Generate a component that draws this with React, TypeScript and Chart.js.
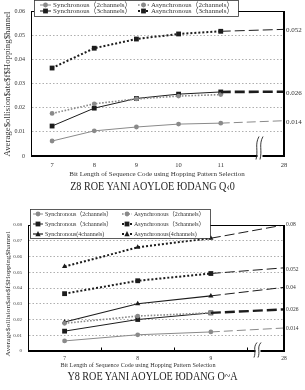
import React, { useEffect, useRef } from 'react';
import { Chart, registerables } from 'chart.js';

Chart.register(...registerables);

const SERIF = '"Liberation Serif", "Noto Sans CJK JP", serif';

// ---------- Figure 1 (top) ----------
const topBits = [7, 8, 9, 10, 11];
const topTailBits = 28;
const topSync2 = [0.0062, 0.0104, 0.012, 0.0132, 0.0136];
const topAsync2 = [0.0176, 0.0216, 0.0236, 0.0248, 0.0254];
const topSync3 = [0.0124, 0.0198, 0.0238, 0.0256, 0.0265];
const topAsync3 = [0.0364, 0.0446, 0.0484, 0.0505, 0.0516];
const topTailSync2 = 0.0146;
const topTailSync3 = 0.0266;
const topTailAsync3 = 0.0524;
const topYTicks = [0, 0.01, 0.02, 0.03, 0.04, 0.05, 0.06];
const topRightTicks = [0.014, 0.026, 0.052];

// ---------- Figure 2 (bottom) ----------
const botBits = [7, 8, 9];
const botTailBits = 28;
const botSync2 = [0.0064, 0.0103, 0.0121];
const botAsync2 = [0.0176, 0.0222, 0.0242];
const botSync3 = [0.0126, 0.02, 0.0242];
const botAsync3 = [0.0364, 0.0446, 0.0492];
const botSync4 = [0.0184, 0.03, 0.035];
const botAsync4 = [0.0536, 0.0658, 0.0716];
const botTailSync2 = 0.0146;
const botTailSync3 = 0.0264;
const botTailSync4 = 0.0404;
const botTailAsync3 = 0.0528;
const botTailAsync4 = 0.08;
const botYTicks = [0, 0.01, 0.02, 0.03, 0.04, 0.05, 0.06, 0.07, 0.08];
const botRightTicks = [0.014, 0.026, 0.04, 0.052, 0.08];

const seriesLabels = [
  'Synchronous（2channels）',
  'Asynchronous（2channels）',
  'Synchronous（3channels）',
  'Asynchronous（3channels）',
  'Synchronous(4channels)',
  'Asynchronous(4channels)',
];

const xTitleText = 'Bit Length of Sequence Code using Hopping Pattern Selection';
const yTitleText = 'Average$ollision$ate$f$Hopping$hannel';
const caption1 = 'Z8 ROE YANI AOYLOE ЮDANG Q‹0';
const caption2 = 'Y8 ROE YANI AOYLOE ЮDANG O~A';

const GRAY = '#8a8a8a';
const DARK = '#1c1c1c';

const sSync2 = { borderColor: GRAY, backgroundColor: GRAY, borderWidth: 1, borderDash: [], pointStyle: 'circle', pointRadius: 2.4 };
const sAsync2 = { borderColor: GRAY, backgroundColor: GRAY, borderWidth: 1.6, borderDash: [1.6, 1.6], pointStyle: 'circle', pointRadius: 2.4 };
const sSync3 = { borderColor: DARK, backgroundColor: DARK, borderWidth: 1, borderDash: [], pointStyle: 'rect', pointRadius: 3.4 };
const sAsync3 = { borderColor: DARK, backgroundColor: DARK, borderWidth: 2, borderDash: [2, 2], pointStyle: 'rect', pointRadius: 3.4 };
const sSync4 = { borderColor: DARK, backgroundColor: DARK, borderWidth: 1.2, borderDash: [], pointStyle: 'triangle', pointRadius: 3 };
const sAsync4 = { borderColor: DARK, backgroundColor: DARK, borderWidth: 2, borderDash: [2, 2], pointStyle: 'triangle', pointRadius: 3 };

function series(label: string, bits: number[], vals: number[], style: any) {
  return {
    label,
    data: bits.map((b, i) => ({ x: b, y: vals[i] })),
    ...style,
    pointBorderWidth: 0,
    pointHoverRadius: style.pointRadius,
    fill: false,
    tension: 0,
  };
}

function tail(fromBit: number, fromVal: number, toPos: number, toVal: number, color: string, width: number, dash: number[]) {
  return {
    data: [{ x: fromBit, y: fromVal }, { x: toPos, y: toVal }],
    borderColor: color,
    backgroundColor: color,
    borderWidth: width,
    borderDash: dash,
    pointRadius: 0,
    fill: false,
    tension: 0,
  };
}

function drawMarker(ctx: CanvasRenderingContext2D, style: string, x: number, y: number, r: number, color: string) {
  ctx.save();
  ctx.setLineDash([]);
  ctx.fillStyle = color;
  ctx.beginPath();
  if (style === 'circle') {
    ctx.arc(x, y, r, 0, Math.PI * 2);
  } else if (style === 'rect') {
    const h = r * Math.SQRT1_2;
    ctx.rect(x - h, y - h, 2 * h, 2 * h);
  } else {
    const h = r * 1.5;
    ctx.moveTo(x, y - r);
    ctx.lineTo(x + h * 0.58, y + h * 0.5);
    ctx.lineTo(x - h * 0.58, y + h * 0.5);
    ctx.closePath();
  }
  ctx.fill();
  ctx.restore();
}

const decor = {
  id: 'decor',
  afterDraw(chart: any, _args: any, o: any) {
    const ctx: CanvasRenderingContext2D = chart.ctx;
    const ca = chart.chartArea;
    ctx.save();
    // frame
    ctx.setLineDash([]);
    ctx.strokeStyle = '#000';
    ctx.lineWidth = 1;
    const L = Math.round(ca.left) + 0.5;
    const T = Math.round(ca.top) + 0.5;
    const R = Math.round(ca.right) - 0.5;
    const B = Math.round(ca.bottom) - 0.5;
    ctx.strokeRect(L, T, R - L, B - T);

    // inner minor ticks on x axis
    const xs = chart.scales.x;
    (o.minorTicks || []).forEach((v: number) => {
      const px = Math.round(xs.getPixelForValue(v)) + 0.5;
      ctx.beginPath();
      ctx.moveTo(px, B);
      ctx.lineTo(px, B - 3);
      ctx.stroke();
    });

    // axis break
    const bx = R - o.breakOffset;
    ctx.fillStyle = '#fff';
    ctx.fillRect(bx - 2, B - 2, 5, 4);
    ctx.lineWidth = 0.9;
    ctx.strokeStyle = '#222';
    [0, 4].forEach((dx) => {
      const x = bx - 2 + dx;
      const y1 = B - o.breakUp;
      const y2 = B + o.breakDown;
      ctx.beginPath();
      ctx.moveTo(x + 1.5, y1);
      ctx.bezierCurveTo(x - 3, y1 + (y2 - y1) * 0.35, x + 1, y1 + (y2 - y1) * 0.6, x - 1.5, y2);
      ctx.stroke();
    });

    // titles
    ctx.fillStyle = '#333';
    ctx.textAlign = 'center';
    ctx.textBaseline = 'middle';
    ctx.font = `${o.xTitleSize}px ${SERIF}`;
    ctx.fillText(xTitleText, o.xTitleX, o.xTitleY);
    ctx.save();
    ctx.translate(o.yTitleX, o.yTitleY);
    ctx.rotate(-Math.PI / 2);
    ctx.font = `${o.yTitleSize}px ${SERIF}`;
    const w = ctx.measureText(yTitleText).width;
    const sx = o.yTitleLen / w;
    ctx.scale(sx, 1);
    ctx.fillText(yTitleText, 0, 0);
    ctx.restore();

    // legend
    const [lx, ly, lw, lh] = o.legendBox;
    ctx.fillStyle = '#fff';
    ctx.fillRect(lx, ly, lw, lh);
    ctx.strokeStyle = '#333';
    ctx.lineWidth = 0.8;
    ctx.strokeRect(lx + 0.5, ly + 0.5, lw, lh);
    ctx.font = `${o.legendSize}px ${SERIF}`;
    ctx.textAlign = 'left';
    let k = 0;
    chart.data.datasets.forEach((ds: any) => {
      if (!ds.label) return;
      const col = k % 2;
      const row = Math.floor(k / 2);
      k++;
      const px = o.legendCols[col];
      const py = o.legendRows[row];
      ctx.save();
      ctx.strokeStyle = ds.borderColor;
      ctx.lineWidth = ds.borderWidth;
      ctx.setLineDash(ds.borderDash || []);
      ctx.beginPath();
      ctx.moveTo(px, py);
      ctx.lineTo(px + o.sampleW, py);
      ctx.stroke();
      ctx.restore();
      drawMarker(ctx, ds.pointStyle, px + o.sampleW / 2, py, ds.pointRadius, ds.backgroundColor);
      ctx.fillStyle = '#333';
      ctx.fillText(ds.label, px + o.sampleW + 2, py + 0.5);
    });
    ctx.restore();
  },
};

function makeChart(canvas: HTMLCanvasElement, cfg: any) {
  const { datasets, xMin, xMax, bits, tailBits, yMax, yTicks, rightTicks, padTop, leftW, rightW, xH, tickSize, rightSize, xTickSize, xTickPad, decorOpts } = cfg;
  return new Chart(canvas, {
    type: 'line',
    data: { datasets },
    plugins: [decor],
    options: {
      animation: false,
      responsive: false,
      events: [],
      layout: { padding: { top: padTop, left: 0, right: 0, bottom: 0 } },
      plugins: {
        legend: { display: false },
        tooltip: { enabled: false },
        decor: decorOpts,
      } as any,
      scales: {
        x: {
          type: 'linear',
          min: xMin,
          max: xMax,
          afterBuildTicks: (s: any) => {
            s.ticks = [...bits, xMax].map((v: number) => ({ value: v }));
          },
          afterFit: (s: any) => {
            s.height = xH;
          },
          ticks: {
            autoSkip: false,
            maxRotation: 0,
            padding: xTickPad,
            color: '#333',
            font: { family: SERIF, size: xTickSize },
            callback: (v: any) => (v === xMax ? String(tailBits) : String(v)),
          },
          grid: { display: false, drawTicks: false, tickLength: 0 },
          border: { color: '#000' },
        },
        y: {
          min: 0,
          max: yMax,
          afterBuildTicks: (s: any) => {
            s.ticks = yTicks.map((v: number) => ({ value: v }));
          },
          afterFit: (s: any) => {
            s.width = leftW;
          },
          ticks: {
            padding: 6,
            color: '#333',
            font: { family: SERIF, size: tickSize },
            callback: (v: any) => (v === 0 ? '0' : Number(v).toFixed(2)),
          },
          grid: { color: '#9a9a9a', lineWidth: 0.8, drawTicks: false },
          border: { color: '#000', dash: [1.5, 2] },
        },
        yR: {
          position: 'right',
          min: 0,
          max: yMax,
          afterBuildTicks: (s: any) => {
            s.ticks = rightTicks.map((v: number) => ({ value: v }));
          },
          afterFit: (s: any) => {
            s.width = rightW;
          },
          ticks: {
            padding: 2,
            color: '#333',
            font: { family: SERIF, size: rightSize },
            callback: (v: any) => String(v),
          },
          grid: { display: false, drawTicks: false },
          border: { color: '#000' },
        },
      } as any,
    },
  } as any);
}

export default function App() {
  const topRef = useRef<HTMLCanvasElement>(null);
  const botRef = useRef<HTMLCanvasElement>(null);

  useEffect(() => {
    const topXMax = 12.5;
    const botXMax = 10;
    const topLast = topBits[topBits.length - 1];
    const botLast = botBits[botBits.length - 1];
    const li = topBits.length - 1;
    const bi = botBits.length - 1;

    const top = makeChart(topRef.current!, {
      datasets: [
        tail(topLast, topSync2[li], topXMax, topTailSync2, GRAY, 1, [9, 4]),
        tail(topLast, topAsync3[li], topXMax, topTailAsync3, DARK, 1, [10, 4]),
        tail(topLast, topSync3[li], topXMax, topTailSync3, DARK, 2.6, [10, 4]),
        series(seriesLabels[0], topBits, topSync2, sSync2),
        series(seriesLabels[1], topBits, topAsync2, sAsync2),
        series(seriesLabels[2], topBits, topSync3, sSync3),
        series(seriesLabels[3], topBits, topAsync3, sAsync3),
      ],
      xMin: 6.5,
      xMax: topXMax,
      bits: topBits,
      tailBits: topTailBits,
      yMax: 0.06,
      yTicks: topYTicks,
      rightTicks: topRightTicks,
      padTop: 11,
      leftW: 31,
      rightW: 21,
      xH: 26,
      tickSize: 6,
      rightSize: 7,
      xTickSize: 6.5,
      xTickPad: 5,
      decorOpts: {
        minorTicks: [],
        breakOffset: 24,
        breakUp: 19,
        breakDown: 4,
        xTitleX: 157,
        xTitleY: 174,
        xTitleSize: 7,
        yTitleX: 8,
        yTitleY: 84,
        yTitleSize: 7.5,
        yTitleLen: 145,
        legendBox: [34, 0, 204, 16],
        legendCols: [40, 138],
        legendRows: [5, 11],
        sampleW: 11,
        legendSize: 7,
      },
    });

    const bot = makeChart(botRef.current!, {
      datasets: [
        tail(botLast, botSync2[bi], botXMax, botTailSync2, GRAY, 1, [9, 4]),
        tail(botLast, botAsync3[bi], botXMax, botTailAsync3, DARK, 1, [10, 4]),
        tail(botLast, botSync4[bi], botXMax, botTailSync4, DARK, 1, [10, 4]),
        tail(botLast, botAsync4[bi], botXMax, botTailAsync4, DARK, 1, [10, 4]),
        tail(botLast, botSync3[bi], botXMax, botTailSync3, DARK, 2.4, [10, 4]),
        series(seriesLabels[0], botBits, botSync2, sSync2),
        series(seriesLabels[1], botBits, botAsync2, sAsync2),
        series(seriesLabels[2], botBits, botSync3, sSync3),
        series(seriesLabels[3], botBits, botAsync3, sAsync3),
        series(seriesLabels[4], botBits, botSync4, sSync4),
        series(seriesLabels[5], botBits, botAsync4, sAsync4),
      ],
      xMin: 6.5,
      xMax: botXMax,
      bits: botBits,
      tailBits: botTailBits,
      yMax: 0.08,
      yTicks: botYTicks,
      rightTicks: botRightTicks,
      padTop: 25,
      leftW: 28,
      rightW: 21,
      xH: 21,
      tickSize: 5,
      rightSize: 5.5,
      xTickSize: 5.5,
      xTickPad: 4,
      decorOpts: {
        minorTicks: [7.5, 8.5, 9.5],
        breakOffset: 26,
        breakUp: 8,
        breakDown: 7,
        xTitleX: 138,
        xTitleY: 165,
        xTitleSize: 6.2,
        yTitleX: 8,
        yTitleY: 94,
        yTitleSize: 6.5,
        yTitleLen: 125,
        legendBox: [30, 9, 180, 29],
        legendCols: [33, 122],
        legendRows: [14, 24, 34],
        sampleW: 10,
        legendSize: 6,
      },
    });

    return () => {
      top.destroy();
      bot.destroy();
    };
  }, []);

  const capStyle: React.CSSProperties = {
    position: 'absolute',
    left: 0,
    width: 305,
    textAlign: 'center',
    fontFamily: SERIF,
    fontSize: 13,
    lineHeight: '14px',
    color: '#222',
    whiteSpace: 'nowrap',
    transform: 'scaleX(0.78)',
  };

  return (
    <div style={{ position: 'absolute', left: 0, top: 0, width: 305, height: 390, background: '#fff', overflow: 'hidden' }}>
      <canvas ref={topRef} width={305} height={182} style={{ position: 'absolute', left: 0, top: 0 }} />
      <div style={{ ...capStyle, top: 179 }}>{caption1}</div>
      <canvas ref={botRef} width={305} height={172} style={{ position: 'absolute', left: 0, top: 200 }} />
      <div style={{ ...capStyle, top: 369 }}>{caption2}</div>
    </div>
  );
}
